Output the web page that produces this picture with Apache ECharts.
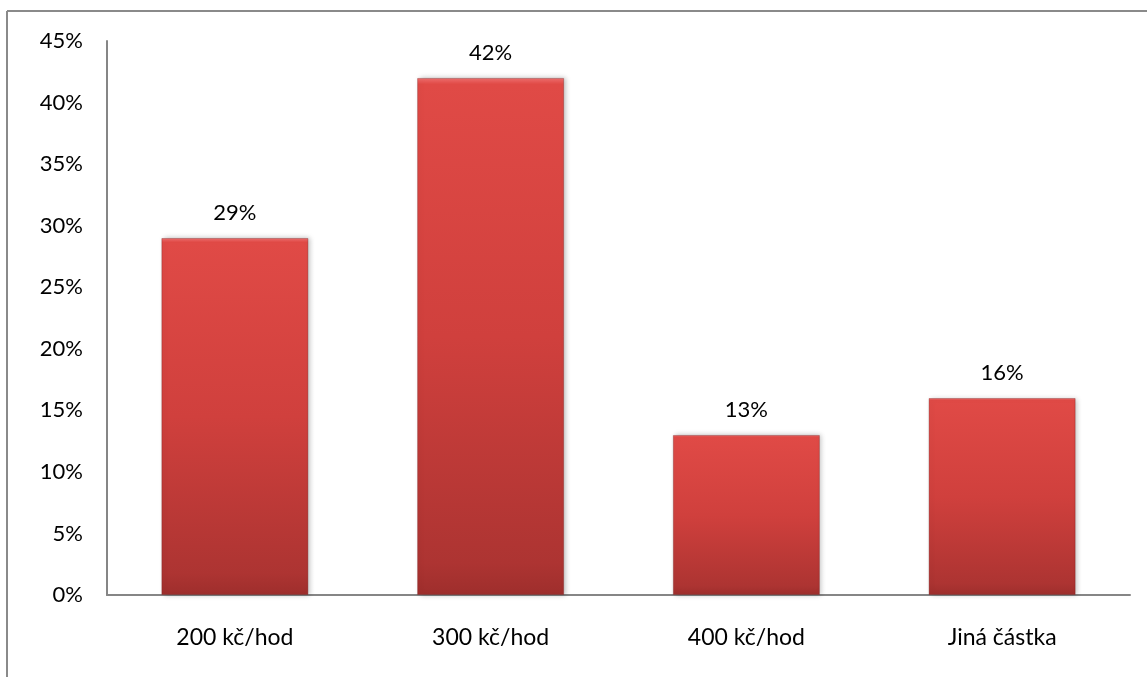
<!DOCTYPE html>
<html>
<head>
<meta charset="utf-8">
<script src="https://cdn.jsdelivr.net/npm/echarts@6/dist/echarts.min.js"></script>
<style>
  html, body { margin: 0; padding: 0; background: #fff; }
  #chart { width: 1147px; height: 677px; }
</style>
</head>
<body>
<div id="chart"></div>
<script>
// Hourly rate answers, share of respondents (%)
const categories = ['200 kč/hod', '300 kč/hod', '400 kč/hod', 'Jiná částka'];
const shares = [29, 42, 13, 16];
const yTicks = { min: 0, max: 45, interval: 5 };

const FONT = 'Lato, "Open Sans", sans-serif';

const chart = echarts.init(document.getElementById('chart'), null, { renderer: 'canvas' });

chart.setOption({
  backgroundColor: '#ffffff',
  animation: false,
  grid: { left: 107, right: 17, top: 41, bottom: 82, containLabel: false },
  graphic: [
    // frame around the chart area (top and left edges)
    { type: 'line', shape: { x1: 7, y1: 11, x2: 1147, y2: 11 }, style: { stroke: '#8a8a8a', lineWidth: 2 } },
    { type: 'line', shape: { x1: 7, y1: 11, x2: 7, y2: 677 }, style: { stroke: '#8a8a8a', lineWidth: 2 } }
  ],
  xAxis: {
    type: 'category',
    data: categories,
    axisLine: { show: true, lineStyle: { color: '#868686', width: 2 } },
    axisTick: { show: false },
    axisLabel: { color: '#000', fontFamily: FONT, fontSize: 23, margin: 31 },
    splitLine: { show: false }
  },
  yAxis: {
    type: 'value',
    min: yTicks.min,
    max: yTicks.max,
    interval: yTicks.interval,
    axisLine: { show: true, lineStyle: { color: '#868686', width: 2 } },
    axisTick: { show: false },
    axisLabel: { color: '#000', fontFamily: FONT, fontSize: 22, margin: 24, formatter: '{value}%' },
    splitLine: { show: false }
  },
  series: [{
    type: 'bar',
    data: shares,
    barWidth: '57.5%',
    itemStyle: {
      color: {
        type: 'linear', x: 0, y: 0, x2: 0, y2: 1,
        colorStops: [
          { offset: 0, color: '#f07070' },
          { offset: 0.012, color: '#e04a46' },
          { offset: 0.5, color: '#d0403d' },
          { offset: 0.94, color: '#ad3432' },
          { offset: 1, color: '#9e2e2c' }
        ]
      },
      borderColor: 'rgba(120,30,30,0.35)',
      borderWidth: 1,
      shadowColor: 'rgba(0,0,0,0.25)',
      shadowBlur: 5,
      shadowOffsetX: 2,
      shadowOffsetY: 0
    },
    label: {
      show: true,
      position: 'top',
      distance: 14,
      color: '#000',
      fontFamily: FONT,
      fontSize: 22,
      formatter: '{c}%'
    }
  }]
});
</script>
</body>
</html>
